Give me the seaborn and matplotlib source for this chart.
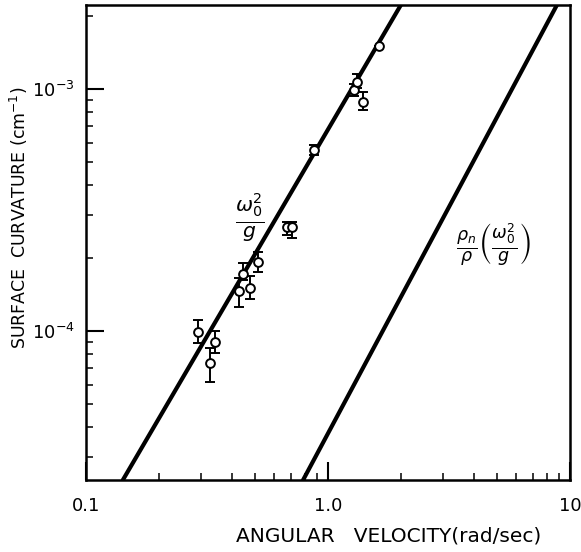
import matplotlib
matplotlib.use("Agg")
import matplotlib.pyplot as plt
from matplotlib.ticker import LogLocator, NullFormatter, FixedLocator, FixedFormatter
import seaborn as sns
import pandas as pd
import numpy as np

# Measured surface curvature versus angular velocity
omega = [0.290, 0.341, 0.325, 0.429, 0.445, 0.476, 0.514,
         0.677, 0.710, 0.876, 1.28, 1.318, 1.397, 1.625]
curvature = [9.9e-5, 9.0e-5, 7.4e-5, 1.46e-4, 1.72e-4, 1.51e-4, 1.93e-4,
             2.69e-4, 2.69e-4, 5.60e-4, 9.9e-4, 1.07e-3, 8.84e-4, 1.50e-3]
curv_low = [8.9e-5, 8.1e-5, 6.15e-5, 1.26e-4, 1.62e-4, 1.36e-4, 1.75e-4,
            2.49e-4, 2.42e-4, 5.34e-4, 9.35e-4, 1.01e-3, 8.19e-4, 1.50e-3]
curv_high = [1.11e-4, 1.0e-4, 8.5e-5, 1.66e-4, 1.91e-4, 1.69e-4, 2.12e-4,
             2.82e-4, 2.82e-4, 5.87e-4, 1.05e-3, 1.15e-3, 9.72e-4, 1.50e-3]

# Theoretical lines: full fluid (omega^2/g) and normal fraction (rho_n/rho * omega^2/g)
line_total_omega = [0.142, 2.00]
line_total_curv = [2.42e-5, 2.22e-3]
line_normal_omega = [0.789, 8.83]
line_normal_curv = [2.42e-5, 2.22e-3]

x_ticks = [0.1, 1.0, 10.0]
x_tick_labels = ["0.1", "1.0", "10"]
y_ticks = [1e-4, 1e-3]
y_tick_labels = [r"$10^{-4}$", r"$10^{-3}$"]

sns.set_theme(style="ticks")
plt.rcParams["font.family"] = ["DejaVu Sans"]
plt.rcParams["mathtext.fontset"] = "dejavusans"
plt.rcParams["text.color"] = "black"
plt.rcParams["axes.labelcolor"] = "black"

fig = plt.figure(figsize=(5.81, 5.52), dpi=100)
ax = fig.add_axes([86 / 581, 1 - 480 / 552, (570 - 86) / 581, (480 - 5) / 552])
ax.set_xscale("log")
ax.set_yscale("log")

lines = pd.DataFrame({
    "omega": line_total_omega + line_normal_omega,
    "curv": line_total_curv + line_normal_curv,
    "which": ["total", "total", "normal", "normal"],
})
sns.lineplot(data=lines, x="omega", y="curv", units="which", estimator=None,
             color="black", linewidth=3.0, ax=ax, legend=False)

pts = pd.DataFrame({"omega": omega, "curv": curvature})
yerr = np.array([np.array(curvature) - np.array(curv_low),
                 np.array(curv_high) - np.array(curvature)])
ax.errorbar(omega, curvature, yerr=yerr, fmt="none", ecolor="black",
            elinewidth=1.4, capsize=3.5, capthick=1.4, zorder=3)
sns.scatterplot(data=pts, x="omega", y="curv", marker="o", s=40,
                facecolor="white", edgecolor="black", linewidth=1.4,
                ax=ax, zorder=4, legend=False)

ax.set_xlim(0.1, 10.0)
ax.set_ylim(2.42e-5, 2.22e-3)

ax.xaxis.set_major_locator(FixedLocator(x_ticks))
ax.xaxis.set_major_formatter(FixedFormatter(x_tick_labels))
ax.yaxis.set_major_locator(FixedLocator(y_ticks))
ax.yaxis.set_major_formatter(FixedFormatter(y_tick_labels))
ax.xaxis.set_minor_locator(LogLocator(base=10, subs=np.arange(2, 10)))
ax.yaxis.set_minor_locator(LogLocator(base=10, subs=np.arange(2, 10)))
ax.xaxis.set_minor_formatter(NullFormatter())
ax.yaxis.set_minor_formatter(NullFormatter())

ax.tick_params(which="major", direction="in", length=13, width=1.5,
               labelsize=13, colors="black")
ax.tick_params(which="minor", direction="in", length=5, width=1.3)
ax.tick_params(axis="x", which="major", pad=12)
ax.tick_params(axis="y", which="major", pad=8)
ax.tick_params(top=False, right=False, which="both")

for side in ["left", "right", "top", "bottom"]:
    ax.spines[side].set_visible(True)
    ax.spines[side].set_linewidth(1.8)
    ax.spines[side].set_color("black")

ax.set_xlabel("ANGULAR   VELOCITY(rad/sec)", fontsize=14.5, color="black")
ax.set_ylabel("SURFACE  CURVATURE (cm$^{-1}$)", fontsize=12.5, color="black")
# axis label placement in axes coordinates
ax.xaxis.set_label_coords((389 - 86) / 484, (480 - 527) / 475)
ax.yaxis.set_label_coords((30 - 86) / 484, (480 - 218) / 475)

ax.text((250 - 86) / 484, (480 - 217) / 475, r"$\frac{\omega_0^{2}}{g}$",
        transform=ax.transAxes, fontsize=21, ha="center", va="center",
        color="black")
ax.text((493 - 86) / 484, (480 - 245) / 475,
        r"$\frac{\rho_n}{\rho}\left(\frac{\omega_0^{2}}{g}\right)$",
        transform=ax.transAxes, fontsize=18, ha="center", va="center",
        color="black")

fig.savefig("out.png", dpi=100, facecolor="white")
